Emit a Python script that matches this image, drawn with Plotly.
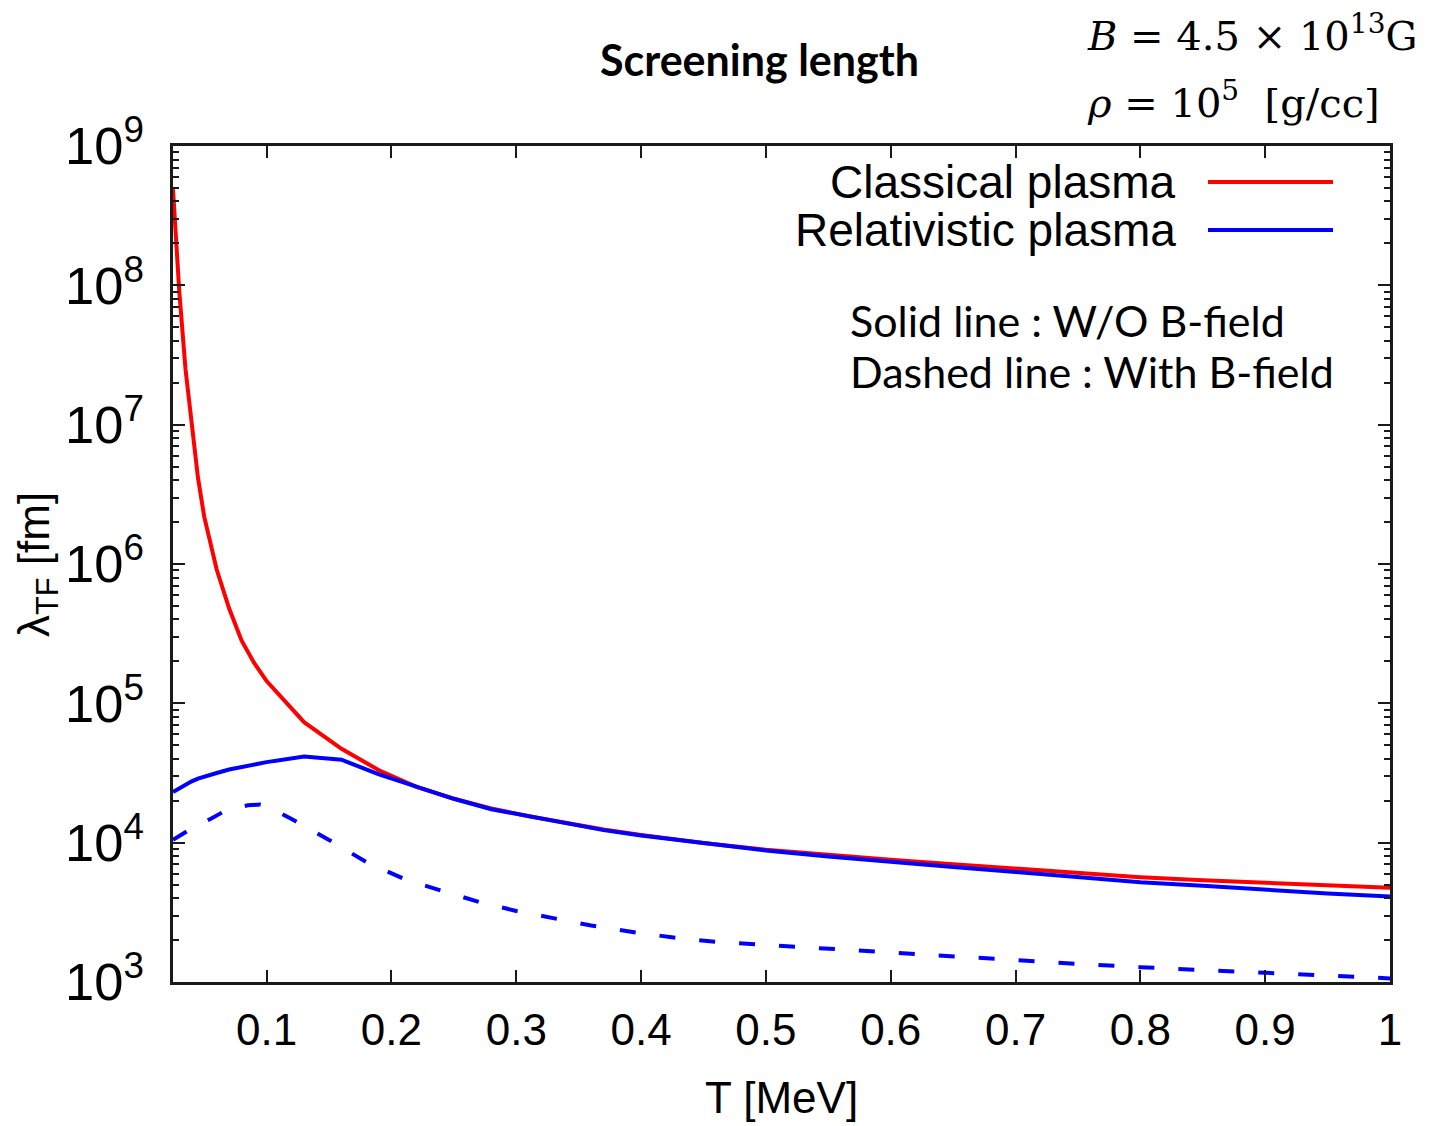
import plotly.graph_objects as go

# ---------------- data ----------------
T_grid = [0.025, 0.03, 0.035, 0.04, 0.045, 0.05, 0.06, 0.07, 0.08, 0.09, 0.1,
          0.13, 0.16, 0.19, 0.22, 0.25, 0.28, 0.31, 0.34, 0.37, 0.4, 0.45,
          0.5, 0.55, 0.6, 0.65, 0.7, 0.75, 0.8, 0.85, 0.9, 0.95, 1.0]

# log10 of lambda_TF [fm]
classical_log = [8.69, 7.96, 7.40, 7.01, 6.62, 6.34, 5.96, 5.68, 5.45, 5.29, 5.16,
                 4.865, 4.674, 4.52, 4.40, 4.315, 4.245, 4.19, 4.14, 4.095, 4.055, 3.998,
                 3.950, 3.91, 3.877, 3.845, 3.815, 3.785, 3.752, 3.73, 3.71, 3.69, 3.676]

relativistic_log = [4.363, 4.39, 4.415, 4.44, 4.46, 4.475, 4.50, 4.525, 4.545, 4.565, 4.578,
                    4.619, 4.595, 4.49, 4.40, 4.315, 4.24, 4.19, 4.14, 4.09, 4.052, 3.995,
                    3.944, 3.90, 3.860, 3.825, 3.79, 3.755, 3.716, 3.69, 3.66, 3.635, 3.614]

T_bfield = [0.025, 0.035, 0.045, 0.055, 0.065, 0.075, 0.085, 0.095, 0.1, 0.12, 0.15,
            0.18, 0.21, 0.24, 0.27, 0.3, 0.33, 0.36, 0.4, 0.43, 0.46, 0.5, 0.55,
            0.6, 0.65, 0.7, 0.75, 0.8, 0.85, 0.9, 0.95, 1.0]
relativistic_b_log = [4.02, 4.075, 4.13, 4.17, 4.22, 4.25, 4.268, 4.274, 4.265, 4.17, 4.02,
                      3.86, 3.74, 3.655, 3.575, 3.51, 3.457, 3.405, 3.35, 3.315, 3.288, 3.266, 3.235,
                      3.206, 3.183, 3.155, 3.13, 3.106, 3.087, 3.066, 3.045, 3.026]

classical = [10 ** v for v in classical_log]
relativistic = [10 ** v for v in relativistic_log]
relativistic_b = [10 ** v for v in relativistic_b_log]

# ---------------- figure ----------------
W, H = 1432, 1126
L, R, TOP, BOT = 173, 1390, 146, 982


def px(x):
    return (x - L) / (R - L)


def py(y):
    return (BOT - y) / (BOT - TOP)


fig = go.Figure()
fig.add_trace(go.Scatter(x=T_grid, y=classical, mode="lines",
                         line=dict(color="#ff0000", width=4), name="Classical plasma"))
fig.add_trace(go.Scatter(x=T_grid, y=relativistic, mode="lines",
                         line=dict(color="#0000ff", width=4), name="Relativistic plasma"))
fig.add_trace(go.Scatter(x=T_bfield, y=relativistic_b, mode="lines",
                         line=dict(color="#0000ff", width=4, dash="16px,24px"),
                         name="Relativistic plasma (B-field)"))

tick_font = dict(family="Liberation Sans, Arial, sans-serif", size=44, color="black")
ytick_font = dict(family="Liberation Sans, Arial, sans-serif", size=42, color="black")
calibri_like = "Lato, Open Sans, sans-serif"
axis_color = "#1a1a1a"

fig.update_layout(
    width=W, height=H,
    margin=dict(l=L, r=W - R, t=TOP, b=H - BOT),
    paper_bgcolor="white", plot_bgcolor="white",
    showlegend=False,
    font=tick_font,
    xaxis=dict(
        range=[0.025, 1.0], tick0=0, dtick=0.1,
        ticks="inside", ticklen=12, tickwidth=1.5, tickcolor=axis_color,
        showline=True, linewidth=2.5, linecolor=axis_color, mirror="ticks",
        showgrid=False, zeroline=False,
        tickfont=tick_font, ticklabelstandoff=7,
        title=dict(text="T [MeV]", font=tick_font, standoff=30),
    ),
    yaxis=dict(
        type="log", range=[3, 9], dtick=1, exponentformat="power",
        ticks="inside", ticklen=12, tickwidth=1.5, tickcolor=axis_color,
        minor=dict(ticks="inside", ticklen=6, tickwidth=1.5, tickcolor=axis_color),
        showline=True, linewidth=2.5, linecolor=axis_color, mirror="ticks",
        showgrid=False, zeroline=False,
        tickfont=ytick_font, ticklabelstandoff=18,
    ),
)

annotations = [
    dict(x=px(37), y=py(565), text="λ<sub>TF</sub> [fm]", textangle=-90,
         font=dict(family="Liberation Sans, Arial, sans-serif", size=44, color="black")),
    dict(x=px(759), y=py(60), text="<b>Screening length</b>",
         font=dict(family=calibri_like, size=43, color="black")),
    dict(x=px(1178), y=py(182), text="Classical plasma", xanchor="right",
         font=dict(family="Liberation Sans, Arial, sans-serif", size=46, color="black")),
    dict(x=px(1178), y=py(230), text="Relativistic plasma", xanchor="right",
         font=dict(family="Liberation Sans, Arial, sans-serif", size=46, color="black")),
    dict(x=px(848), y=py(320), text="Solid line : W/O B-field", xanchor="left",
         font=dict(family=calibri_like, size=43, color="black")),
    dict(x=px(848), y=py(371), text="Dashed line : With B-field", xanchor="left",
         font=dict(family=calibri_like, size=43, color="black")),
    dict(x=px(1085), y=py(33),
         text="<i>B</i> = 4.5 × 10<sup>13</sup>G", xanchor="left",
         font=dict(family="DejaVu Serif, Liberation Serif, serif", size=40, color="black")),
    dict(x=px(1085), y=py(100),
         text="<i>ρ</i> = 10<sup>5</sup>  [g/cc]", xanchor="left",
         font=dict(family="DejaVu Serif, Liberation Serif, serif", size=40, color="black")),
]
for a in annotations:
    a.update(xref="paper", yref="paper", showarrow=False, yanchor="middle")
    a.setdefault("xanchor", "center")
fig.update_layout(annotations=annotations)

# legend key samples (right of the labels, gnuplot style)
for ypx, col in [(182, "#ff0000"), (230, "#0000ff")]:
    fig.add_shape(type="line", xref="paper", yref="paper",
                  x0=px(1208), x1=px(1333), y0=py(ypx), y1=py(ypx),
                  line=dict(color=col, width=4))

fig.write_html("out.html")
